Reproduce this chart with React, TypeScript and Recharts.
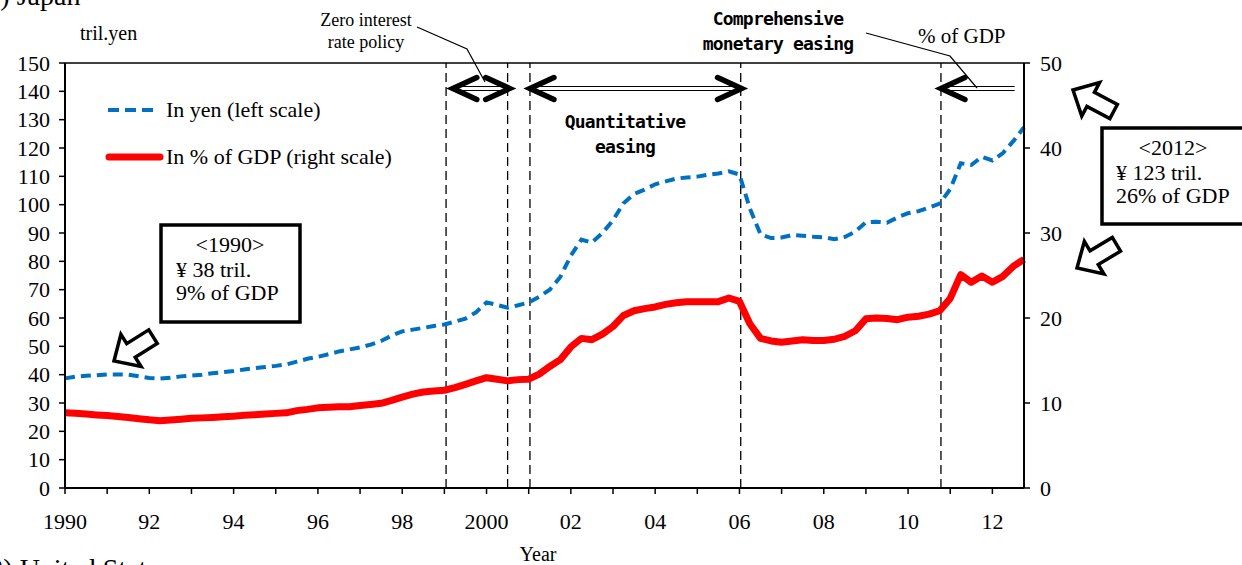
import React from 'react';
import { LineChart, Line, XAxis, YAxis, ReferenceLine } from 'recharts';

// quarterly, 1990 Q1 .. 2012 Q4
const yenTril = [
  38.7, 39.3, 39.6, 39.8, 40.1, 40.1, 40.0, 39.4,
  38.8, 38.6, 38.9, 39.4, 39.7, 40.0, 40.5, 40.9,
  41.3, 41.8, 42.3, 42.7, 43.1, 43.6, 44.6, 45.6,
  46.3, 47.2, 48.2, 48.9, 49.6, 50.6, 51.9, 53.8,
  55.3, 55.9, 56.5, 57.2, 57.7, 58.7, 59.8, 62.0,
  65.5, 64.6, 63.6, 64.5, 65.5, 67.5, 70.0, 74.5,
  82.0, 87.7, 86.6, 90.0, 94.5, 100.5, 103.8, 105.3,
  107.2, 108.2, 109.2, 109.6, 109.9, 110.6, 111.0, 111.8,
  110.6, 98.5, 89.5, 88.2, 88.4, 89.3, 89.0, 88.7,
  88.5, 87.8, 88.6, 90.5, 93.8, 94.0, 93.6, 95.5,
  97.0, 97.7, 99.0, 100.4, 105.5, 114.6, 114.0, 116.9,
  115.6, 118.2, 122.5, 127.3,
];

const gdpPct = [
  8.86, 8.8, 8.7, 8.6, 8.52, 8.4, 8.3, 8.15,
  8.02, 7.92, 8.0, 8.1, 8.2, 8.25, 8.3, 8.37,
  8.45, 8.55, 8.62, 8.7, 8.78, 8.84, 9.1, 9.25,
  9.43, 9.5, 9.55, 9.57, 9.7, 9.82, 9.96, 10.3,
  10.7, 11.05, 11.3, 11.4, 11.5, 11.8, 12.2, 12.6,
  12.98, 12.8, 12.6, 12.75, 12.8, 13.4, 14.3, 15.1,
  16.6, 17.6, 17.45, 18.1, 19.0, 20.3, 20.85, 21.1,
  21.3, 21.6, 21.8, 21.92, 21.92, 21.92, 21.92, 22.35,
  21.95, 19.3, 17.6, 17.3, 17.15, 17.3, 17.45, 17.35,
  17.35, 17.5, 17.85, 18.5, 19.9, 20.0, 19.95, 19.8,
  20.1, 20.2, 20.45, 20.85, 22.3, 25.1, 24.2, 24.95,
  24.2, 24.9, 26.1, 26.9,
];

const yearTicks = [
  1990, 1991, 1992, 1993, 1994, 1995, 1996, 1997, 1998, 1999, 2000, 2001,
  2002, 2003, 2004, 2005, 2006, 2007, 2008, 2009, 2010, 2011, 2012,
];
const leftTicks = [0, 10, 20, 30, 40, 50, 60, 70, 80, 90, 100, 110, 120, 130, 140, 150];
const rightTicks = [0, 10, 20, 30, 40, 50];

// policy regime boundaries (dashed lines)
const policyDates = [1999.04, 2000.5, 2001.03, 2006.03, 2010.78];
// arrows over the policy periods
const policyArrows = [
  { from: 1999.2, to: 2000.55, left: true, right: true },
  { from: 2001.03, to: 2006.05, left: true, right: true },
  { from: 2010.78, to: 2012.6, left: true, right: false },
];
const arrowLevel = 141;

const rows = yenTril.map((v, i) => ({ t: 1990 + i / 4, yen: v, gdp: gdpPct[i] }));

const serif = '"Liberation Serif", "Times New Roman", serif';
const mono = '"DejaVu Sans Mono", monospace';

const yearLabel = (y: number) => {
  if (y % 2 === 1) return '';
  if (y === 1990 || y === 2000) return String(y);
  return String(y).slice(2);
};

function DoubleArrow(props: any) {
  const { x1, y1, x2, left, right } = props;
  const h = 24;
  const w = 11;
  return (
    <g>
      <line x1={x1 + 3} y1={y1 - 2} x2={x2 - 3} y2={y1 - 2} stroke="#000" strokeWidth={1.2} />
      <line x1={x1 + 3} y1={y1 + 2} x2={x2 - 3} y2={y1 + 2} stroke="#000" strokeWidth={1.2} />
      {left && (
        <polyline
          points={`${x1 + h},${y1 - w} ${x1},${y1} ${x1 + h},${y1 + w}`}
          fill="none" stroke="#000" strokeWidth={5.5} strokeLinecap="round"
        />
      )}
      {right && (
        <polyline
          points={`${x2 - h},${y1 - w} ${x2},${y1} ${x2 - h},${y1 + w}`}
          fill="none" stroke="#000" strokeWidth={5.5} strokeLinecap="round"
        />
      )}
    </g>
  );
}

function BlockArrow({ x, y, angle }: { x: number; y: number; angle: number }) {
  return (
    <polygon
      points="0,0 20,-19 20,-8 46,-8 46,8 20,8 20,19"
      transform={`translate(${x},${y}) rotate(${angle})`}
      fill="#fff" stroke="#000" strokeWidth={3.5}
    />
  );
}

function Annotations() {
  return (
    <svg
      width={1242} height={565}
      style={{ position: 'absolute', left: 0, top: 0, pointerEvents: 'none' }}
    >
      <g fontFamily={serif} fill="#000">
        {/* panel titles, cropped at the edges as in the source figure */}
        <text x={-23} y={5} fontSize={28}>(1) Japan</text>
        <text x={-20} y={578} fontSize={28}>(2) United States</text>
        <text x={538} y={561} fontSize={20} textAnchor="middle">Year</text>
        <text x={80} y={40} fontSize={20}>tril.yen</text>
        <text x={918} y={43} fontSize={21}>% of GDP</text>
        <text x={366} y={26} fontSize={18} textAnchor="middle">Zero interest</text>
        <text x={366} y={48} fontSize={18} textAnchor="middle">rate policy</text>

        {/* legend */}
        <line x1={108} y1={110} x2={157} y2={110} stroke="#0070C0" strokeWidth={4} strokeDasharray="11 6" />
        <text x={166} y={117} fontSize={22}>In yen (left scale)</text>
        <line x1={109} y1={157} x2={160} y2={157} stroke="#FF0000" strokeWidth={7} strokeLinecap="round" />
        <text x={166} y={164} fontSize={22}>In % of GDP (right scale)</text>

        {/* 1990 box */}
        <rect x={161} y={225} width={139} height={97} fill="#fff" stroke="#000" strokeWidth={3.5} />
        <text x={230} y={252} fontSize={22} textAnchor="middle">&lt;1990&gt;</text>
        <text x={176} y={277} fontSize={22}>¥ 38 tril.</text>
        <text x={176} y={300} fontSize={22}>9% of GDP</text>

        {/* 2012 box */}
        <rect x={1102} y={128} width={160} height={96} fill="#fff" stroke="#000" strokeWidth={3.5} />
        <text x={1173} y={155} fontSize={22} textAnchor="middle">&lt;2012&gt;</text>
        <text x={1116} y={180} fontSize={22}>¥ 123 tril.</text>
        <text x={1116} y={203} fontSize={22}>26% of GDP</text>
      </g>

      <g fontFamily={mono} fontWeight="bold" fontSize={18} letterSpacing={-0.8} fill="#000" textAnchor="middle">
        <text x={778} y={25}>Comprehensive</text>
        <text x={778} y={50}>monetary easing</text>
        <text x={625} y={128}>Quantitative</text>
        <text x={625} y={153}>easing</text>
      </g>

      {/* leader lines */}
      <polyline points="417,27 467,49 485,82" fill="none" stroke="#000" strokeWidth={1.2} />
      <polyline points="866,33 950,56 977,88" fill="none" stroke="#000" strokeWidth={1.2} />

      <BlockArrow x={114} y={361} angle={-32} />
      <BlockArrow x={1073} y={90} angle={28} />
      <BlockArrow x={1077} y={268} angle={-31} />
    </svg>
  );
}

export default function App() {
  return (
    <div style={{ position: 'relative', width: 1242, height: 565, background: '#fff' }}>
      <style>{'body{margin:0}'}</style>
      <LineChart
        width={1242} height={565} data={rows}
        margin={{ top: 63, right: 0, bottom: 0, left: 0 }}
      >
        <XAxis
          type="number" dataKey="t" domain={[1990, 2012.75]} ticks={yearTicks}
          tickFormatter={yearLabel} interval={0} height={77} tickSize={6} tickMargin={19}
          axisLine={{ stroke: '#000', strokeWidth: 2 }}
          tickLine={{ stroke: '#000', strokeWidth: 1.5 }}
          tick={{ fill: '#000', fontSize: 22, fontFamily: serif }}
        />
        <YAxis
          yAxisId="left" domain={[0, 150]} ticks={leftTicks} interval={0} width={65}
          tickSize={6} tickMargin={9}
          axisLine={{ stroke: '#000', strokeWidth: 2 }}
          tickLine={{ stroke: '#000', strokeWidth: 1.5 }}
          tick={{ fill: '#000', fontSize: 22, fontFamily: serif }}
        />
        <YAxis
          yAxisId="right" orientation="right" domain={[0, 50]} ticks={rightTicks} interval={0}
          width={218} tickSize={6} tickMargin={10}
          axisLine={{ stroke: '#000', strokeWidth: 2 }}
          tickLine={{ stroke: '#000', strokeWidth: 1.5 }}
          tick={{ fill: '#000', fontSize: 22, fontFamily: serif, textAnchor: 'start' }}
        />
        <ReferenceLine yAxisId="left" y={150} stroke="#000" strokeWidth={1.5} />
        {policyDates.map((d) => (
          <ReferenceLine
            key={d} yAxisId="left" x={d}
            stroke="#000" strokeWidth={1.3} strokeDasharray="9 5"
          />
        ))}
        {policyArrows.map((a) => (
          <ReferenceLine
            key={a.from} yAxisId="left"
            segment={[{ x: a.from, y: arrowLevel }, { x: a.to, y: arrowLevel }]}
            shape={(p: any) => <DoubleArrow {...p} left={a.left} right={a.right} />}
          />
        ))}
        <Line
          yAxisId="right" dataKey="gdp" type="linear" stroke="#FF0000" strokeWidth={7}
          strokeLinejoin="round" dot={false} activeDot={false} isAnimationActive={false}
        />
        <Line
          yAxisId="left" dataKey="yen" type="linear" stroke="#0070C0" strokeWidth={4}
          strokeDasharray="10 6" dot={false} activeDot={false} isAnimationActive={false}
        />
      </LineChart>
      <Annotations />
    </div>
  );
}
